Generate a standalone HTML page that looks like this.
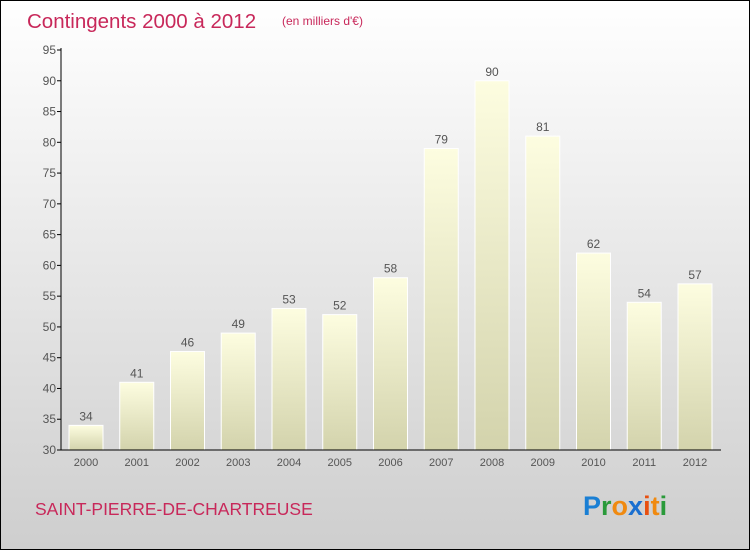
<!DOCTYPE html>
<html><head><meta charset="utf-8"><style>
body{margin:0;}
#c{width:750px;height:550px;position:relative;overflow:hidden;}
svg text{font-family:"Liberation Sans",sans-serif;}
</style></head><body>
<div id="c">
<svg id="s" width="750" height="550" xmlns="http://www.w3.org/2000/svg">
<defs>
<linearGradient id="bg" x1="0" y1="0" x2="0" y2="1"><stop offset="0" stop-color="#ffffff"/><stop offset="1" stop-color="#cecece"/></linearGradient>
<linearGradient id="bar" x1="0" y1="0" x2="0" y2="1"><stop offset="0" stop-color="#fdfde0"/><stop offset="1" stop-color="#d3d3ac"/></linearGradient>
</defs>
<rect x="0.5" y="0.5" width="749" height="549" fill="url(#bg)" stroke="#000"/>
<text x="27" y="28" font-size="20.5" fill="#c8285a">Contingents 2000 à 2012</text>
<text x="282" y="25" font-size="12" fill="#c8285a">(en milliers d'€)</text>
<text x="35" y="515" font-size="17.5" fill="#c8285a">SAINT-PIERRE-DE-CHARTREUSE</text>
<g font-size="27" font-weight="bold">
<text x="583" y="515"><tspan fill="#1a7fd4">P</tspan><tspan fill="#2a9a3a">r</tspan><tspan fill="#f08a10">o</tspan><tspan fill="#1a6fd0">x</tspan><tspan fill="#e85010">i</tspan><tspan fill="#f08a10">t</tspan><tspan fill="#2a9a3a">i</tspan></text>
</g>
<g id="g"></g>
</svg>
</div>
<script>
const years=["2000","2001","2002","2003","2004","2005","2006","2007","2008","2009","2010","2011","2012"];
const values=[34,41,46,49,53,52,58,79,90,81,62,54,57];
const yTicks=[30,35,40,45,50,55,60,65,70,75,80,85,90,95];
const NS="http://www.w3.org/2000/svg";
const g=document.getElementById('g');
const y0=450,yTop=50,vMin=30,vMax=95;
const y=v=>y0-(v-vMin)*(y0-yTop)/(vMax-vMin);
const x=i=>86+i*50.75;
function el(t,a){const e=document.createElementNS(NS,t);for(const k in a)e.setAttribute(k,a[k]);g.appendChild(e);return e;}
years.forEach((yr,i)=>{
  const r=el('rect',{x:x(i)-17,y:y(values[i]),width:34,height:y0-y(values[i]),fill:'url(#bar)',stroke:'#ffffff','stroke-width':1});
  
  
  const t=el('text',{x:x(i),y:y(values[i])-5,'font-size':12,fill:'#555','text-anchor':'middle'});
  t.textContent=values[i];
  
  
  const xl=el('text',{x:x(i),y:466,'font-size':11,fill:'#555','text-anchor':'middle'});
  xl.textContent=yr;
  
  
});
yTicks.forEach(v=>{
  const l=el('line',{x1:57,x2:61,y1:y(v),y2:y(v),stroke:'#000'});
  
  
  const t=el('text',{x:56,y:y(v)+4,'font-size':12,fill:'#555','text-anchor':'end'});
  t.textContent=v;
  
  
});
const ya=el('line',{x1:61,x2:61,y1:yTop-2,y2:y0,stroke:'#000'});


const xa=el('line',{x1:61,x2:721,y1:y0,y2:y0,stroke:'#000'});


</script>
</body></html>
